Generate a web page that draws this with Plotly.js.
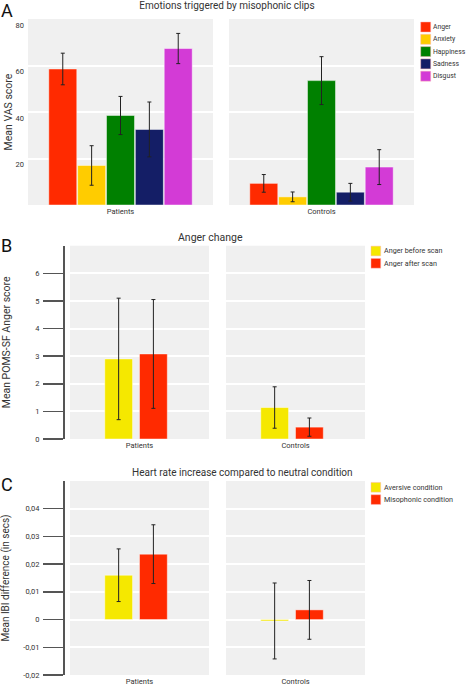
<!DOCTYPE html>
<html>
<head>
<meta charset="utf-8">
<script src="https://cdn.plot.ly/plotly-3.0.1.min.js"></script>
<style>html,body{margin:0;padding:0;background:#fff;}</style>
</head>
<body>
<div id="chart" style="width:467px;height:685px;"></div>
<script>
// ---------- DATA ----------
// Panel A: Emotions triggered by misophonic clips (Mean VAS score)
const emotions = ['Anger', 'Anxiety', 'Happiness', 'Sadness', 'Disgust'];
const groups = ['Patients', 'Controls'];
const vasPatients = [58.5, 17.0, 38.5, 32.5, 67.3];
const vasPatientsErr = [6.8, 8.5, 8.2, 11.8, 6.5];
const vasControls = [9.3, 3.5, 53.5, 5.5, 16.3];
const vasControlsErr = [3.8, 2.1, 10.3, 3.8, 7.5];
const vasTicks = [20, 40, 60, 80];

// Panel B: Anger change (Mean POMS-SF Anger score)
const angerSeries = ['Anger before scan', 'Anger after scan'];
const angerPatients = [2.9, 3.08];
const angerPatientsErr = [2.2, 1.97];
const angerControls = [1.14, 0.43];
const angerControlsErr = [0.75, 0.33];
const angerTicks = [0, 1, 2, 3, 4, 5, 6];

// Panel C: Heart rate increase compared to neutral condition
const hrSeries = ['Aversive condition', 'Misophonic condition'];
const hrPatients = [0.016, 0.0236];
const hrPatientsErr = [0.0095, 0.0106];
const hrControls = [-0.0005, 0.0035];
const hrControlsErr = [0.0137, 0.0106];
const hrTickVals = [-0.02, -0.01, 0, 0.01, 0.02, 0.03, 0.04];
const hrTickText = ['-0,02', '-0,01', '0', '0,01', '0,02', '0,03', '0,04'];

// ---------- STYLE ----------
const W = 467, H = 685;
const px = v => v / W;
const py = v => 1 - v / H;
const FONT = 'Roboto, "Open Sans", sans-serif';
const TXT = '#333333';
const emotionColors = ['#FF2A00', '#FFCC00', '#008000', '#141E66', '#D33BD6'];
const pairColors = ['#F5E800', '#FF2A00'];
const errStyle = {type: 'data', color: '#222222', thickness: 1, width: 2};
const barLine = {color: 'rgba(255,255,255,0.45)', width: 1};
const pairOffsets = [-0.25, 0.0];
const pairWidth = 0.2;

const traces = [];
// Panel A
[[vasPatients, vasPatientsErr, 'x', 'y'], [vasControls, vasControlsErr, 'x2', 'y2']].forEach(([vals, errs, xa, ya], f) => {
  emotions.forEach((name, i) => {
    traces.push({
      type: 'bar', name: name, x: [groups[f]], y: [vals[i]],
      error_y: Object.assign({array: [errs[i]]}, errStyle),
      marker: {color: emotionColors[i], line: barLine},
      xaxis: xa, yaxis: ya, showlegend: false, hoverinfo: 'name+y'
    });
  });
});
// Panels B and C
function pairTraces(series, pVals, pErr, cVals, cErr, axes) {
  [[pVals, pErr, axes[0], axes[1], 0], [cVals, cErr, axes[2], axes[3], 1]].forEach(([vals, errs, xa, ya, f]) => {
    series.forEach((name, i) => {
      traces.push({
        type: 'bar', name: name, x: [groups[f]], y: [vals[i]],
        width: pairWidth, offset: pairOffsets[i],
        error_y: Object.assign({array: [errs[i]]}, errStyle),
        marker: {color: pairColors[i], line: barLine},
        xaxis: xa, yaxis: ya, showlegend: false, hoverinfo: 'name+y'
      });
    });
  });
}
pairTraces(angerSeries, angerPatients, angerPatientsErr, angerControls, angerControlsErr, ['x3', 'y3', 'x4', 'y4']);
pairTraces(hrSeries, hrPatients, hrPatientsErr, hrControls, hrControlsErr, ['x5', 'y5', 'x6', 'y6']);

// ---------- AXES ----------
const xDomA = [[px(28), px(213)], [px(229), px(414)]];
const xDomBC = [[px(70), px(209)], [px(226), px(365)]];
const yDomA = [py(205), py(19)];
const yDomB = [py(439), py(245.7)];
const yDomC = [py(675), py(481)];

function xAx(domain, anchor) {
  return {domain: domain, anchor: anchor, type: 'category', showgrid: false, zeroline: false,
    showline: false, ticks: '', tickfont: {family: FONT, size: 7.5, color: TXT}, fixedrange: true};
}
const gridY = {gridcolor: '#FFFFFF', gridwidth: 2, zeroline: false, fixedrange: true,
  tickfont: {family: FONT, size: 7.5, color: TXT}};

const layout = {
  width: W, height: H,
  margin: {l: 0, r: 0, t: 0, b: 0, pad: 0},
  paper_bgcolor: '#FFFFFF',
  plot_bgcolor: '#F0F0F0',
  barmode: 'group', bargap: 0.22, bargroupgap: 0.03,
  showlegend: false,
  font: {family: FONT, color: TXT},
  title: {text: 'Emotions triggered by misophonic clips', x: px(227), xanchor: 'center',
    y: py(5.5), yanchor: 'middle', font: {family: FONT, size: 10, color: TXT}},
  xaxis: xAx(xDomA[0], 'y'),
  xaxis2: xAx(xDomA[1], 'y2'),
  xaxis3: xAx(xDomBC[0], 'y3'),
  xaxis4: xAx(xDomBC[1], 'y4'),
  xaxis5: xAx(xDomBC[0], 'y5'),
  xaxis6: xAx(xDomBC[1], 'y6'),
  yaxis: Object.assign({}, gridY, {domain: yDomA, anchor: 'x', range: [0, 80], tickvals: vasTicks,
    ticks: '', showline: false, ticklabelstandoff: 3, ticklabelshift: 6,
    title: {text: 'Mean VAS score', standoff: 0, font: {family: FONT, size: 10.5, color: TXT}}}),
  yaxis2: Object.assign({}, gridY, {domain: yDomA, anchor: 'x2', range: [0, 80], tickvals: vasTicks,
    ticks: '', showticklabels: false}),
  yaxis3: Object.assign({}, gridY, {domain: yDomB, anchor: 'free', position: px(63), range: [0, 7],
    tickvals: angerTicks, showline: true, linecolor: '#555555', linewidth: 1.5, ticks: 'outside',
    ticklen: 20, tickcolor: '#555555', tickwidth: 1.5, ticklabelstandoff: 2,
    title: {text: 'Mean POMS-SF Anger score', standoff: 21, font: {family: FONT, size: 10.5, color: TXT}}}),
  yaxis4: Object.assign({}, gridY, {domain: yDomB, anchor: 'x4', range: [0, 7], tickvals: angerTicks,
    ticks: '', showticklabels: false}),
  yaxis5: Object.assign({}, gridY, {domain: yDomC, anchor: 'free', position: px(63), range: [-0.02, 0.05],
    tickvals: hrTickVals, ticktext: hrTickText, showline: true, linecolor: '#555555', linewidth: 1.5,
    ticks: 'outside', ticklen: 20, tickcolor: '#555555', tickwidth: 1.5, ticklabelstandoff: 2,
    zeroline: true, zerolinecolor: '#FFFFFF', zerolinewidth: 2,
    title: {text: 'Mean IBI difference (in secs)', standoff: 10, font: {family: FONT, size: 10, color: TXT}}}),
  yaxis6: Object.assign({}, gridY, {domain: yDomC, anchor: 'x6', range: [-0.02, 0.05], tickvals: hrTickVals,
    ticks: '', showticklabels: false, zeroline: true, zerolinecolor: '#FFFFFF', zerolinewidth: 2}),
  shapes: [],
  annotations: []
};

// Panel titles and letters
const ann = layout.annotations;
function addText(text, x, y, size, opts) {
  ann.push(Object.assign({text: text, xref: 'paper', yref: 'paper', x: px(x), y: py(y),
    xanchor: 'center', yanchor: 'middle', showarrow: false,
    font: {family: FONT, size: size, color: TXT}}, opts || {}));
}
addText('Anger change', 210.5, 238, 10.5);
addText('Heart rate increase compared to neutral condition', 242.5, 472, 10);
addText('A', 7, 10.5, 18, {font: {family: FONT, size: 18, color: '#111111'}});
addText('B', 6.5, 245, 18, {font: {family: FONT, size: 18, color: '#111111'}});
addText('C', 6.5, 484.7, 18, {font: {family: FONT, size: 18, color: '#111111'}});

// Legends (drawn as swatches + text, positioned in paper space)
function legendBlock(names, colors, xLeft, yFirst, step, swatch, textX, fontSize) {
  names.forEach((name, i) => {
    const yc = yFirst + i * step;
    layout.shapes.push({type: 'rect', xref: 'paper', yref: 'paper',
      x0: px(xLeft), x1: px(xLeft + swatch), y0: py(yc - swatch / 2), y1: py(yc + swatch / 2),
      fillcolor: colors[i], line: {color: 'rgba(255,180,180,0.6)', width: 0.8}});
    ann.push({text: name, xref: 'paper', yref: 'paper', x: px(textX), y: py(yc),
      xanchor: 'left', yanchor: 'middle', showarrow: false,
      font: {family: FONT, size: fontSize, color: TXT}});
  });
}
legendBlock(emotions, emotionColors, 420.7, 27, 12.3, 10, 430.5, 6.8);
legendBlock(angerSeries, pairColors, 371, 251, 12.3, 9.7, 382, 7.2);
legendBlock(hrSeries, pairColors, 371, 487.3, 12.3, 9.7, 382, 7.2);

Plotly.newPlot('chart', traces, layout, {displayModeBar: false, staticPlot: true});
</script>
</body>
</html>
